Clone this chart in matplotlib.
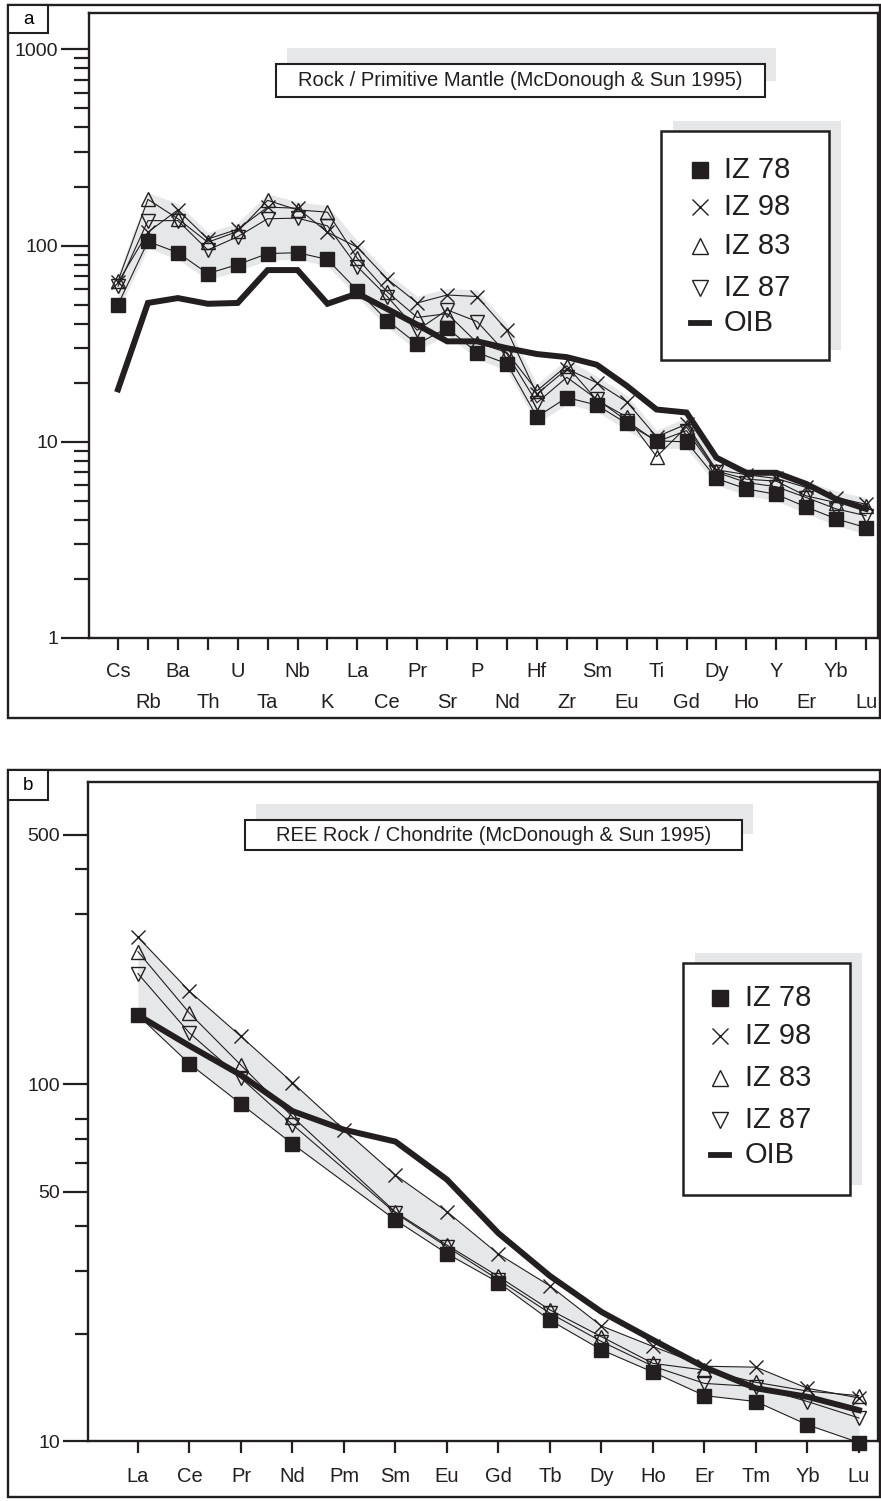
# -*- coding: utf-8 -*-
"""
Spider diagrams: primitive-mantle normalised trace elements (a)
and chondrite normalised REE (b), samples IZ 78/98/83/87 + OIB
"""

import numpy as np
import matplotlib
matplotlib.use('Agg')
import matplotlib.pyplot as plt
from matplotlib.patches import Rectangle
from matplotlib.ticker import FixedLocator, FuncFormatter, NullFormatter

plt.rcParams['font.family'] = ['Liberation Sans', 'DejaVu Sans']

#------------------------------------------------------------------------------
# panel a : rock / primitive mantle
pm_elements = ['Cs', 'Rb', 'Ba', 'Th', 'U', 'Ta', 'Nb', 'K', 'La', 'Ce', 'Pr',
               'Sr', 'P', 'Nd', 'Hf', 'Zr', 'Sm', 'Eu', 'Ti', 'Gd', 'Dy', 'Ho',
               'Y', 'Er', 'Yb', 'Lu']
iz78_pm = [50, 105, 92, 72, 80, 91, 92, 85, 59, 41.5, 31.5, 38, 28.5, 25,
           13.4, 16.8, 15.4, 12.4, 10.1, 10.0, 6.5, 5.75, 5.4, 4.65, 4.05, 3.65]
iz98_pm = [65, 117, 152, 108, 121, 157, 155, 117, 98, 67.5, 51, 56, 55, 37,
           17.5, 23.5, 20, 16, 10.6, 12.3, 7.2, 6.8, 6.5, 5.85, 5.2, 4.8]
iz83_pm = [66, 172, 137, 104, 118, 170, 152, 148, 86, 58, 43, 45, 32, 28.5,
           18.2, 24.4, 16.3, 13.4, 8.4, 11.9, 7.1, 6.45, 6.3, 5.3, 4.9, 4.7]
iz87_pm = [62, 134, 134, 95, 111, 137, 138, 126, 78, 55, 37, 47, 41, 28,
           15.8, 21.3, 16.5, 12.8, 10.0, 11.4, 7.0, 6.2, 5.9, 5.2, 4.55, 4.2]
oib_pm = [18.5, 51, 54, 50.5, 51, 75, 75, 50.5, 57, 47.5, 39.5, 32.5, 32.5, 30,
          28, 27, 24.7, 19.3, 14.6, 14.1, 8.3, 6.95, 6.95, 6.1, 5.1, 4.55]

# panel b : REE / chondrite (Pm only for IZ 98 and OIB)
ree_elements = ['La', 'Ce', 'Pr', 'Nd', 'Pm', 'Sm', 'Eu', 'Gd', 'Tb', 'Dy',
                'Ho', 'Er', 'Tm', 'Yb', 'Lu']
iz78_ree = [156, 114, 88, 68, np.nan, 41.6, 33.5, 27.8, 21.8, 18.0, 15.6,
            13.4, 12.9, 11.1, 9.9]
iz98_ree = [258, 182, 136, 101, 74.5, 55.6, 43.9, 33.4, 27.2, 21.0, 18.4,
            16.2, 16.1, 14.05, 13.2]
iz83_ree = [235, 158, 113, 81, np.nan, 43.8, 35.4, 28.9, 23.3, 19.6, 16.5,
            15.8, 14.6, 13.8, 13.4]
iz87_ree = [204, 139, 104, 77, np.nan, 43.5, 35.0, 28.3, 22.8, 19.0, 16.2,
            14.5, 14.2, 12.9, 11.6]
oib_ree = [156, 128, 106, 84, 74.5, 69, 54, 38.2, 29, 23, 19.2, 16.1, 14.05,
           13.3, 12.2]

sample_names = ['IZ 78', 'IZ 98', 'IZ 83', 'IZ 87']

#------------------------------------------------------------------------------
W, H = 881, 1501
BLK = '#231f20'
SHADE = '#e6e7e8'

fig = plt.figure(figsize=(W / 100, H / 100), dpi=100)


def fx(px):
    return px / W


def fy(py):
    return 1 - py / H


def fig_rect(x0, y0, x1, y1, fc='white', ec=BLK, lw=1.4, z=5):
    r = Rectangle((fx(x0), fy(y1)), fx(x1) - fx(x0), fy(y0) - fy(y1),
                  transform=fig.transFigure, facecolor=fc, edgecolor=ec,
                  linewidth=lw, zorder=z)
    fig.add_artist(r)
    return r


def styles(k=1.0):
    sq = dict(marker='s', ms=10.5 * k, mfc=BLK, mec=BLK)
    xx = dict(marker='x', ms=10.5 * k, mew=1.0, mec=BLK)
    up = dict(marker='^', ms=10.5 * k, mfc='none', mec=BLK, mew=1.0)
    dn = dict(marker='v', ms=10.5 * k, mfc='none', mec=BLK, mew=1.0)
    return [sq, xx, up, dn]


def draw_samples(ax, xpos, series):
    for vals, st in zip(series, styles()):
        vals = np.array(vals, dtype=float)
        ok = ~np.isnan(vals)
        ax.plot(xpos[ok], vals[ok], color=BLK, lw=0.8, zorder=3,
                clip_on=False, **st)


def draw_legend(ax_x0, ax_y0, ax_x1, ax_y1, ys, mx, tx, fs):
    # shadow up-right, then the box
    fig_rect(ax_x0 + 12, ax_y0 - 10, ax_x1 + 12, ax_y1 - 10, fc=SHADE,
             ec='none', lw=0, z=5)
    fig_rect(ax_x0, ax_y0, ax_x1, ax_y1, fc='white', ec=BLK, lw=1.8, z=6)
    for st, name, yy in zip(styles(1.1), sample_names, ys[:4]):
        fig.add_artist(plt.Line2D([fx(mx)], [fy(yy)], transform=fig.transFigure,
                                  color=BLK, zorder=7, **st))
        fig.text(fx(tx), fy(yy), name, fontsize=fs, va='center', ha='left',
                 color=BLK, zorder=7)
    fig.add_artist(plt.Line2D([fx(mx - 9), fx(mx + 9)], [fy(ys[4])] * 2,
                              transform=fig.transFigure, color=BLK, lw=4.2,
                              zorder=7))
    fig.text(fx(tx), fy(ys[4]), 'OIB', fontsize=fs, va='center', ha='left',
             color=BLK, zorder=7)


def draw_title(x0, y0, x1, y1, text, fs):
    fig_rect(x0 + 11, y0 - 16, x1 + 11, y1 - 16, fc=SHADE, ec='none', lw=0, z=5)
    fig_rect(x0, y0, x1, y1, fc='white', ec=BLK, lw=1.5, z=6)
    fig.text(fx((x0 + x1) / 2), fy((y0 + y1) / 2), text, fontsize=fs,
             ha='center', va='center', color=BLK, zorder=7)


def style_axes(ax):
    for s in ax.spines.values():
        s.set_linewidth(1.7)
        s.set_color(BLK)
    ax.tick_params(axis='y', which='both', direction='out', width=1.6,
                   colors=BLK, labelsize=14, pad=2)
    ax.tick_params(axis='x', which='both', direction='out', width=1.6,
                   length=8.5, colors=BLK, labelsize=14.5)


#------------------------------------------------------------------------------
# panel a
ax1 = fig.add_axes([fx(89), fy(638), fx(878) - fx(89), fy(13) - fy(638)])
xa = np.arange(len(pm_elements))
ax1.set_yscale('log')

lo = np.min(np.array([iz78_pm, iz98_pm, iz87_pm]), axis=0) / 1.08
hi = np.max(np.array([iz78_pm, iz98_pm, iz83_pm, iz87_pm]), axis=0) * 1.08
ax1.fill_between(xa, lo, hi, color=SHADE, lw=0, zorder=1)
draw_samples(ax1, xa, [iz78_pm, iz98_pm, iz83_pm, iz87_pm])
ax1.plot(xa, oib_pm, color=BLK, lw=4.3, solid_joinstyle='miter', zorder=4)

ax1.set_xlim(-0.97, len(pm_elements) - 1 + 0.4)
ax1.set_ylim(1, 1532)
ax1.yaxis.set_major_locator(FixedLocator([1, 10, 100, 1000]))
ax1.yaxis.set_major_formatter(FuncFormatter(lambda v, p: '%g' % v))
minor_a = [m * d for d in (1, 10, 100) for m in range(2, 10)]
ax1.yaxis.set_minor_locator(FixedLocator(minor_a))
ax1.yaxis.set_minor_formatter(NullFormatter())
style_axes(ax1)
ax1.tick_params(axis='y', which='major', length=20)
ax1.tick_params(axis='y', which='minor', length=11)
ax1.set_xticks(xa[::2], labels=pm_elements[::2])
ax1.set_xticks(xa[1::2], labels=pm_elements[1::2], minor=True)
ax1.tick_params(axis='x', which='major', pad=9)
ax1.tick_params(axis='x', which='minor', pad=31)

#------------------------------------------------------------------------------
# panel b
ax2 = fig.add_axes([fx(88), fy(1441), fx(878) - fx(88), fy(782) - fy(1441)])
xb = np.arange(len(ree_elements))
ax2.set_yscale('log')

full = ~np.isnan(np.array(iz78_ree, dtype=float))
stack_b = np.array([iz78_ree, iz98_ree, iz83_ree, iz87_ree], dtype=float)
ax2.fill_between(xb[full], np.min(stack_b[:, full], axis=0),
                 np.max(stack_b[:, full], axis=0), color=SHADE, lw=0, zorder=1)
draw_samples(ax2, xb, [iz78_ree, iz98_ree, iz83_ree, iz87_ree])
ax2.plot(xb, oib_ree, color=BLK, lw=4.3, solid_joinstyle='miter', zorder=4)

ax2.set_xlim(-0.97, len(ree_elements) - 1 + 0.37)
ax2.set_ylim(10, 702)
ax2.yaxis.set_major_locator(FixedLocator([10, 50, 100, 500]))
ax2.yaxis.set_major_formatter(FuncFormatter(lambda v, p: '%g' % v))
ax2.yaxis.set_minor_locator(FixedLocator([20, 30, 40, 60, 70, 80, 300, 400]))
ax2.yaxis.set_minor_formatter(NullFormatter())
style_axes(ax2)
ax2.tick_params(axis='y', which='major', length=18)
ax2.tick_params(axis='y', which='minor', length=9.5)
ax2.set_xticks(xb, labels=ree_elements)
ax2.tick_params(axis='x', which='major', pad=10)

#------------------------------------------------------------------------------
# frames, panel letters, title boxes, legends
fig_rect(8, 5, 880, 718, fc='none', ec=BLK, lw=1.7, z=8)
fig_rect(8, 5, 48, 33, fc='white', ec=BLK, lw=1.5, z=8)
fig.text(fx(28), fy(19), 'a', fontsize=13.5, ha='center', va='center', zorder=9)

fig_rect(8, 770, 880, 1497, fc='none', ec=BLK, lw=1.7, z=8)
fig_rect(8, 770, 48, 800, fc='white', ec=BLK, lw=1.5, z=8)
fig.text(fx(28), fy(785), 'b', fontsize=13.5, ha='center', va='center', zorder=9)

draw_title(276, 64, 765, 97, 'Rock / Primitive Mantle (McDonough & Sun 1995)', 14.5)
draw_title(245, 820, 742, 850, 'REE Rock / Chondrite (McDonough & Sun 1995)', 14.5)

draw_legend(661, 131, 829, 360, [170, 207, 246, 288, 323], 700, 724, 21)
draw_legend(683, 963, 850, 1195, [998, 1036, 1078, 1120, 1155], 720, 745, 21)

fig.savefig('out.png', dpi=100)
